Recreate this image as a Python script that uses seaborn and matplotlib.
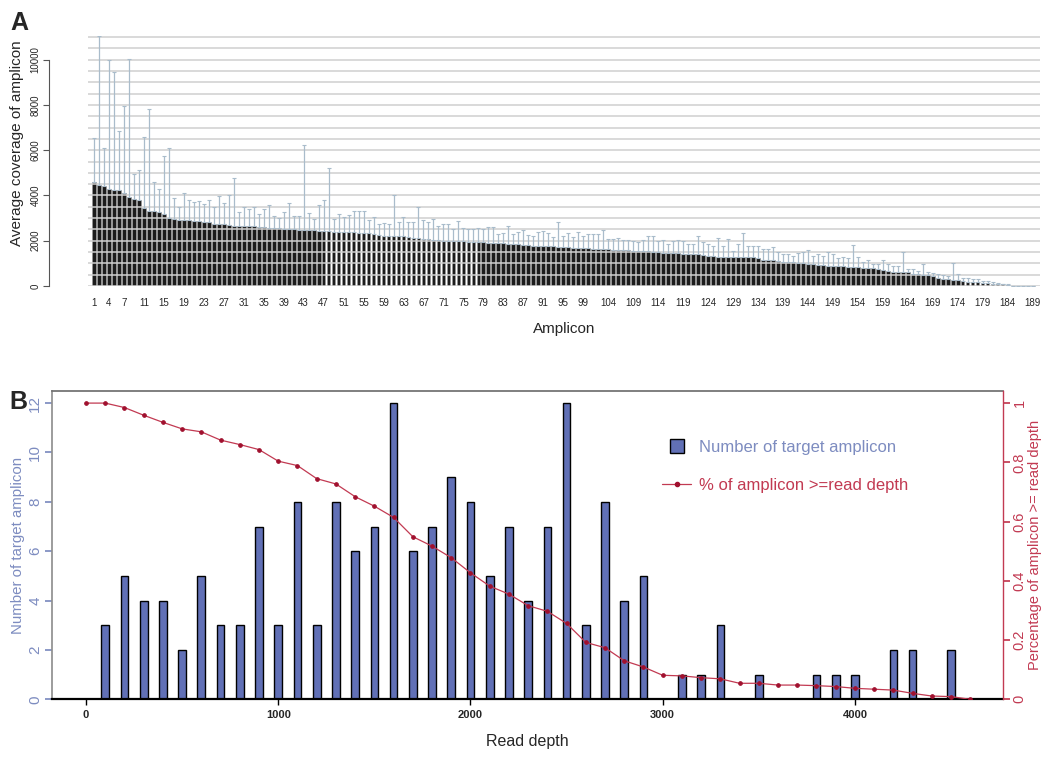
import numpy as np
import matplotlib
matplotlib.use("Agg")
import matplotlib.pyplot as plt
import seaborn as sns
from matplotlib.lines import Line2D
from matplotlib.patches import Patch, Rectangle
from matplotlib.legend_handler import HandlerPatch
from matplotlib.ticker import MultipleLocator, FuncFormatter

# ---- panel A: average coverage per amplicon (sorted) ----
coverage_mean = [
    4610, 4460, 4440, 4270, 4260, 4230, 4110, 3920, 3850, 3800,
    3450, 3330, 3300, 3280, 3190, 3000, 2940, 2930, 2910, 2900,
    2880, 2860, 2840, 2820, 2760, 2740, 2720, 2680, 2670, 2665,
    2660, 2650, 2640, 2620, 2600, 2580, 2560, 2545, 2530, 2520,
    2500, 2490, 2480, 2470, 2460, 2440, 2420, 2410, 2400, 2390,
    2380, 2370, 2365, 2360, 2350, 2320, 2290, 2260, 2230, 2220,
    2200, 2195, 2190, 2160, 2140, 2110, 2090, 2070, 2050, 2030,
    2010, 2000, 1990, 1980, 1970, 1960, 1950, 1940, 1925, 1910,
    1900, 1890, 1880, 1870, 1860, 1845, 1830, 1820, 1770, 1765,
    1760, 1760, 1750, 1740, 1725, 1710, 1695, 1680, 1670, 1660,
    1650, 1640, 1625, 1615, 1605, 1600, 1590, 1575, 1560, 1550,
    1540, 1530, 1510, 1495, 1480, 1465, 1450, 1440, 1430, 1415,
    1405, 1400, 1350, 1310, 1305, 1300, 1300, 1295, 1295, 1290,
    1290, 1290, 1270, 1240, 1160, 1150, 1130, 1100, 1080, 1060,
    1050, 1030, 1010, 990, 960, 930, 910, 900, 890, 880,
    870, 860, 855, 850, 810, 805, 800, 740, 690, 650,
    625, 620, 615, 610, 550, 520, 490, 470, 420, 370,
    310, 290, 270, 250, 220, 190, 180, 165, 150, 125,
    100, 85, 70, 40, 15, 10, 8, 5, 3,
]

# top of the error bar for each amplicon
coverage_upper = [
    6560, 11070, 6120, 9970, 9470, 6860, 7960, 10040, 4950, 5140,
    6590, 7840, 4610, 4290, 5760, 6080, 3890, 3480, 4100, 3780,
    3700, 3740, 3610, 3780, 3480, 3970, 3660, 4040, 4760, 3290,
    3480, 3410, 3480, 3160, 3410, 3560, 3110, 3000, 3250, 3690,
    3110, 3080, 6230, 3220, 2970, 3560, 3780, 5200, 2970, 3190,
    3040, 3140, 3330, 3300, 3330, 2920, 3040, 2720, 2790, 2750,
    4030, 2820, 3040, 2820, 2820, 3480, 2920, 2850, 2970, 2670,
    2720, 2750, 2500, 2870, 2550, 2500, 2500, 2570, 2520, 2600,
    2620, 2310, 2350, 2640, 2310, 2380, 2480, 2260, 2230, 2380,
    2450, 2330, 2160, 2820, 2190, 2330, 2160, 2380, 2190, 2280,
    2280, 2300, 2480, 2060, 2060, 2130, 2040, 2040, 1980, 1950,
    2040, 2230, 2190, 1980, 2040, 1870, 1980, 2040, 1970, 1870,
    1870, 2190, 1950, 1870, 1760, 2110, 1760, 2060, 1530, 1870,
    2350, 1760, 1760, 1760, 1620, 1620, 1720, 1500, 1400, 1400,
    1320, 1450, 1500, 1600, 1320, 1420, 1320, 1500, 1420, 1250,
    1270, 1230, 1820, 1270, 1060, 1160, 990, 990, 1160, 990,
    870, 870, 1500, 770, 770, 660, 990, 620, 570, 520,
    470, 430, 1010, 520, 370, 370, 300, 300, 220, 220,
    180, 150, 100, 70, 20, 15, 12, 10, 8,
]

amplicon_ids = list(range(1, len(coverage_mean) + 1))
amplicon_ticks = [1, 4, 7, 11, 15, 19, 23, 27, 31, 35, 39, 43, 47, 51, 55, 59,
                  63, 67, 71, 75, 79, 83, 87, 91, 95, 99, 104, 109, 114, 119,
                  124, 129, 134, 139, 144, 149, 154, 159, 164, 169, 174, 179,
                  184, 189]

# ---- panel B: read depth distribution ----
depth_bins = list(range(0, 4600, 100))
n_amplicon = [0, 3, 5, 4, 4, 2, 5, 3, 3, 7,
              3, 8, 3, 8, 6, 7, 12, 6, 7, 9,
              8, 5, 7, 4, 7, 12, 3, 8, 4, 5,
              0, 1, 1, 3, 0, 1, 0, 0, 1, 1,
              1, 0, 2, 2, 0, 2]

depth_line = list(range(0, 4700, 100))
pct_ge_depth = [1.0, 1.0, 0.985, 0.959, 0.935, 0.913, 0.903, 0.875, 0.860, 0.843,
                0.804, 0.789, 0.745, 0.727, 0.684, 0.652, 0.614, 0.549, 0.517, 0.478,
                0.427, 0.382, 0.355, 0.316, 0.297, 0.256, 0.192, 0.174, 0.130, 0.109,
                0.081, 0.079, 0.073, 0.069, 0.054, 0.054, 0.048, 0.048, 0.046, 0.043,
                0.037, 0.034, 0.031, 0.020, 0.011, 0.009, 0.0]

BAR_BLUE = "#6170b6"
AXIS_BLUE = "#7d8cc0"
LINE_RED = "#c23a52"
DOT_RED = "#a0102e"


class SquareHandler(HandlerPatch):
    """Legend key drawn as a small square in the middle of the handle box."""

    def create_artists(self, legend, orig_handle, xdescent, ydescent,
                       width, height, fontsize, trans):
        side = height * 1.25
        x0 = (width - side) / 2 - xdescent
        y0 = (height - side) / 2 - ydescent
        rect = Rectangle((x0, y0), side, side,
                         facecolor=orig_handle.get_facecolor(),
                         edgecolor=orig_handle.get_edgecolor(),
                         linewidth=orig_handle.get_linewidth(),
                         transform=trans)
        return [rect]


sns.set_theme(style="white")
plt.rcParams["font.family"] = ["Liberation Sans", "DejaVu Sans"]

fig = plt.figure(figsize=(10.5, 7.61), dpi=100)

# ================= panel A =================
axA = fig.add_axes([0.0838, 0.6242, 0.9062, 0.3285])
sns.barplot(x=amplicon_ids, y=coverage_mean, native_scale=True, width=0.75,
            color="#1c1c1c", saturation=1, edgecolor="#9a9a9a", linewidth=0.4,
            errorbar=None, ax=axA)
mean_arr = np.array(coverage_mean)
upper_arr = np.array(coverage_upper)
axA.errorbar(amplicon_ids, mean_arr,
             yerr=[np.zeros_like(mean_arr), upper_arr - mean_arr],
             fmt="none", ecolor="#a9bccb", elinewidth=0.9, capsize=1.5,
             capthick=0.8, zorder=3)
axA.set_xlim(-0.2, 190.4)
axA.set_ylim(0, 11050)
axA.yaxis.set_major_locator(MultipleLocator(2000))
axA.yaxis.set_minor_locator(MultipleLocator(500))
axA.yaxis.grid(True, which="both", color="#cfcfcf", linewidth=1.1)
axA.set_axisbelow(False)
for s in ["top", "right", "bottom"]:
    axA.spines[s].set_visible(False)
axA.spines["left"].set_position(("outward", 28))
axA.spines["left"].set_bounds(0, 10000)
axA.spines["left"].set_color("#555555")
axA.spines["left"].set_linewidth(0.8)
axA.tick_params(axis="y", which="major", direction="out", length=4, width=0.8,
                color="#555555", labelsize=7, labelrotation=90, pad=2,
                left=True)
axA.tick_params(axis="y", which="minor", length=0)
for lab in axA.get_yticklabels():
    lab.set_verticalalignment("center")
axA.set_xticks(amplicon_ticks)
axA.set_xticklabels([str(t) for t in amplicon_ticks])
axA.tick_params(axis="x", length=0, labelsize=7, pad=9)
axA.set_xlabel("Amplicon", fontsize=11, labelpad=10)
axA.set_ylabel("Average coverage of amplicon", fontsize=11)
axA.yaxis.set_label_coords(-0.0672, 0.572)

fig.text(0.010, 0.985, "A", fontsize=18, fontweight="bold", va="top")

# ================= panel B =================
axB = fig.add_axes([0.0495, 0.0811, 0.9057, 0.4051])
sns.barplot(x=depth_bins, y=n_amplicon, native_scale=True, width=0.4,
            color=BAR_BLUE, saturation=1, edgecolor="black", linewidth=1.0,
            errorbar=None, ax=axB)
axB.set_xlim(-177, 4770)
axB.set_ylim(0, 12.49)
axB.set_yticks([0, 2, 4, 6, 8, 10, 12])
axB.tick_params(axis="y", direction="out", length=5, color=AXIS_BLUE,
                labelcolor=AXIS_BLUE, labelsize=11, labelrotation=90, pad=2,
                left=True)
for lab in axB.get_yticklabels():
    lab.set_verticalalignment("center")
axB.set_xticks([0, 1000, 2000, 3000, 4000])
axB.set_xticklabels(["0", "1000", "2000", "3000", "4000"], fontweight="bold")
axB.tick_params(axis="x", direction="out", length=4, width=1, color="black",
                labelsize=8, pad=4, bottom=True)
axB.spines["bottom"].set_color("black")
axB.spines["bottom"].set_linewidth(1.6)
axB.spines["top"].set_color("#707070")
axB.spines["left"].set_color("#909090")
axB.spines["right"].set_visible(False)
axB.set_xlabel("Read depth", fontsize=11.5, labelpad=10)
axB.set_ylabel("Number of target amplicon", fontsize=10.8, color=AXIS_BLUE,
               labelpad=2)

axR = axB.twinx()
sns.lineplot(x=depth_line, y=pct_ge_depth, ax=axR, color=LINE_RED,
             linewidth=0.9, marker="o", markersize=2.6,
             markerfacecolor=DOT_RED, markeredgecolor=DOT_RED)
axR.set_ylim(0, 12.49 / 12)
axR.set_xlim(-177, 4770)
axR.set_yticks([0, 0.2, 0.4, 0.6, 0.8, 1.0])
axR.yaxis.set_major_formatter(FuncFormatter(lambda v, p: f"{v:g}"))
axR.tick_params(axis="y", direction="out", length=5, color=LINE_RED,
                labelcolor=LINE_RED, labelsize=10.5, labelrotation=90, pad=2,
                right=True)
for lab in axR.get_yticklabels():
    lab.set_verticalalignment("center")
for s in ["top", "left", "bottom"]:
    axR.spines[s].set_visible(False)
axR.spines["right"].set_color(LINE_RED)
axR.spines["right"].set_linewidth(1.0)
axR.set_ylabel("Percentage of amplicon >= read depth", fontsize=10.5,
               color=LINE_RED, labelpad=1)

bar_key = Patch(facecolor=BAR_BLUE, edgecolor="black", linewidth=1.0)
line_key = Line2D([0], [0], color=LINE_RED, linewidth=0.9, marker="o",
                  markersize=3, markerfacecolor=DOT_RED,
                  markeredgecolor=DOT_RED)
leg = axR.legend([bar_key, line_key],
                 ["Number of target amplicon", "% of amplicon >=read depth"],
                 handler_map={Patch: SquareHandler()},
                 loc="upper left", bbox_to_anchor=(0.626, 0.89), frameon=False,
                 fontsize=12, handlelength=1.75, labelspacing=1.4,
                 handletextpad=0.45)
leg.get_texts()[0].set_color(AXIS_BLUE)
leg.get_texts()[1].set_color(LINE_RED)

fig.text(0.009, 0.488, "B", fontsize=18, fontweight="bold", va="top")

fig.savefig("out.png", dpi=100)
